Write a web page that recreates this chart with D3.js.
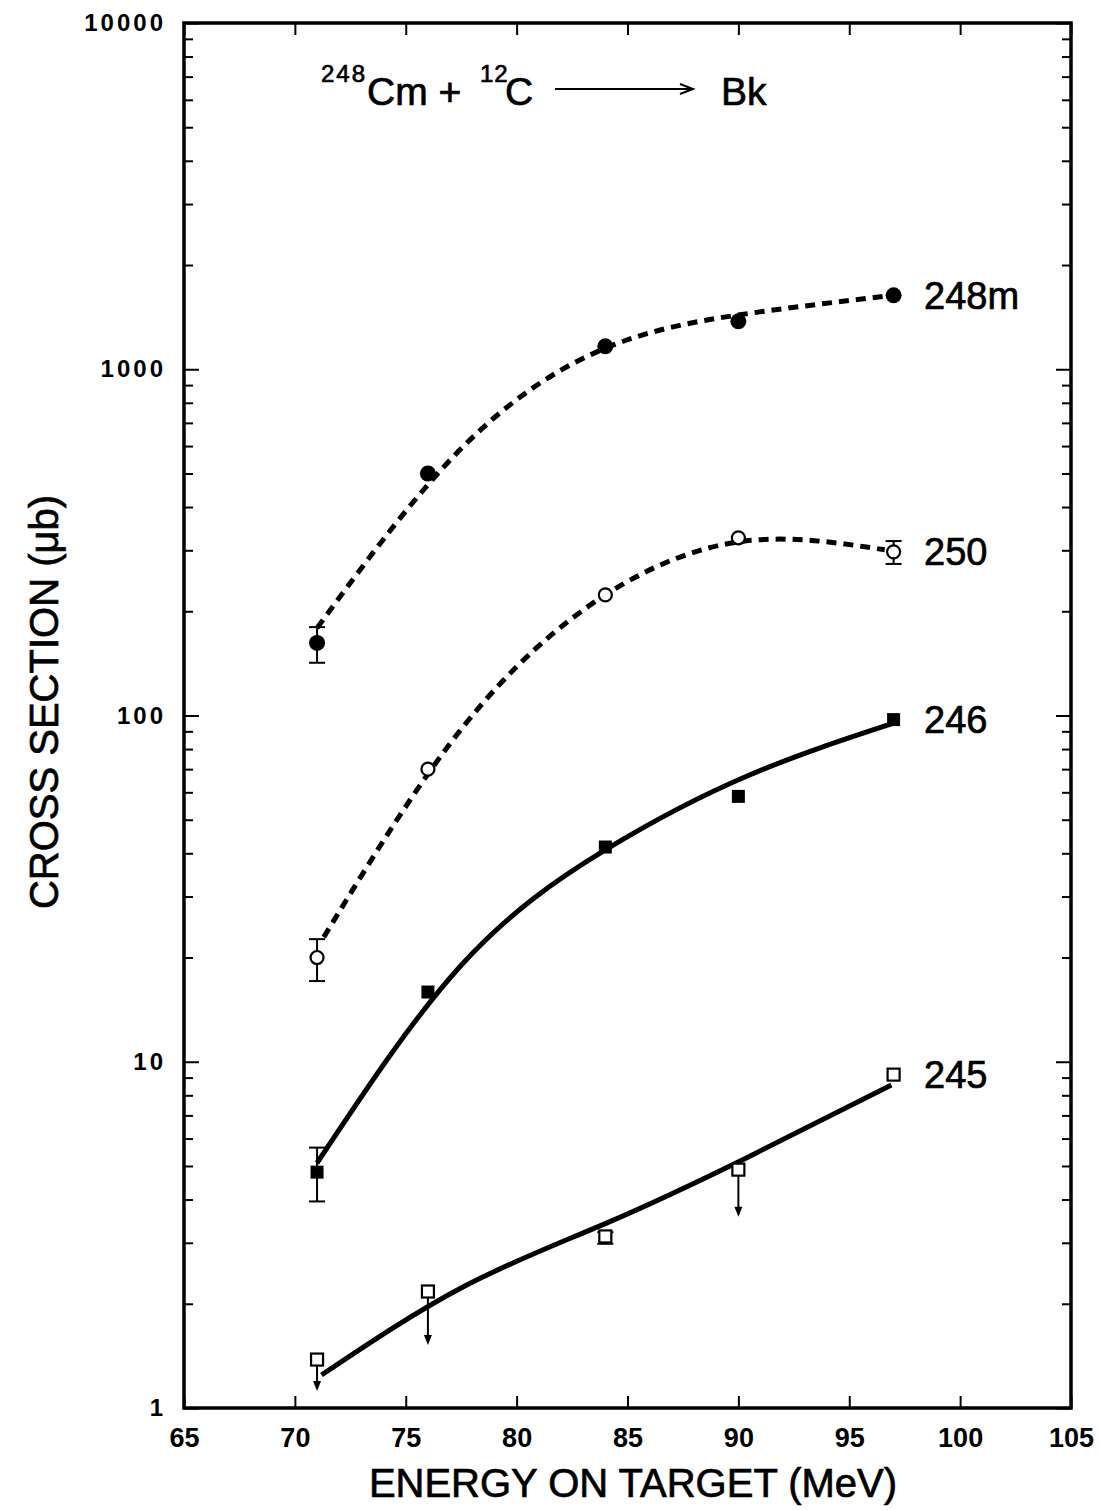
<!DOCTYPE html>
<html>
<head>
<meta charset="utf-8">
<script src="https://cdn.jsdelivr.net/npm/d3@7"></script>
<style>
  body { margin: 0; background: #fff; }
  svg { font-family: "Liberation Sans", Arial, sans-serif; }
  .tick text { font-weight: bold; fill: #000; }
  .yax .tick text { font-size: 24px; letter-spacing: 3px; }
  .xax .tick text { font-size: 27px; }
  .tick line { stroke: #000; stroke-width: 2; }
  .domain { display: none; }
  .big { stroke: #000; stroke-width: 0.7px; }
</style>
</head>
<body>
<div id="chart"></div>
<script>
// measured points, energy in MeV, cross section in microbarn
var energies = [71, 76, 84, 90, 97];
var xTicks = [65, 70, 75, 80, 85, 90, 95, 100, 105];
var yTicks = [1, 10, 100, 1000, 10000];

var cs248m = [162, 500, 1165, 1375, 1635];
var cs250 = [20, 70, 223, 326, 297];
var cs246 = [4.8, 15.9, 41.7, 58.4, 97.3];
var cs245 = [1.38, 2.17, 3.13, 4.88, 9.18];

// error bars: [energy, low, high]
var err248m = [[71, 142, 180]];
var err250 = [[71, 17.1, 22.6], [97, 274, 319]];
var err246 = [[71, 3.95, 5.65]];
var err245 = [[84, 2.98, 3.22]];

// upper limits (arrows) for 245: [energy, from, to]
var limits245 = [[71, 1.38, 1.12], [76, 2.17, 1.52], [90, 4.88, 3.57]];

var fitX248m = [71, 77.5, 84, 90.5, 97];
var fit248m = [179, 590, 1150, 1450, 1635];
var fitX250 = [71.3, 77.6, 84, 90.3, 96.6];
var fit250 = [22.9, 93, 223, 319, 301];
var fitX246 = [71, 77.5, 84, 90.5, 97];
var fit246 = [5.1, 19.0, 40.9, 67.3, 95];
var fitX245 = [71.2, 77.6, 84.05, 90.45, 96.9];
var fit245 = [1.245, 2.24, 3.42, 5.31, 8.57];

(function() {
var width = 1100, height = 1510;
var pLeft = 184, pRight = 1071, pTop = 23, pBottom = 1408;

var svg = d3.select("#chart").append("svg")
  .attr("width", width)
  .attr("height", height);

var x = d3.scaleLinear().domain([65, 105]).range([pLeft, pRight]);
var y = d3.scaleLog().domain([1, 10000]).range([pBottom, pTop]);

// minor ticks of the log axis
var minor = [];
for (var d = 1; d < 10000; d *= 10) {
  for (var k = 2; k <= 9; k++) minor.push(d * k);
}

svg.append("g").attr("class", "yax")
  .attr("transform", "translate(" + pLeft + ",0)")
  .call(d3.axisLeft(y).tickValues(yTicks).tickSize(-15).tickPadding(18)
    .tickFormat(d3.format("d")));
svg.append("g")
  .attr("transform", "translate(" + pLeft + ",0)")
  .call(d3.axisLeft(y).tickValues(minor).tickSize(-9).tickFormat(""));
svg.append("g")
  .attr("transform", "translate(" + pRight + ",0)")
  .call(d3.axisRight(y).tickValues(yTicks).tickSize(-15).tickFormat(""));
svg.append("g")
  .attr("transform", "translate(" + pRight + ",0)")
  .call(d3.axisRight(y).tickValues(minor).tickSize(-9).tickFormat(""));

svg.append("g").attr("class", "xax")
  .attr("transform", "translate(0," + pBottom + ")")
  .call(d3.axisBottom(x).tickValues(xTicks).tickSize(-12).tickPadding(20));
svg.append("g")
  .attr("transform", "translate(0," + pTop + ")")
  .call(d3.axisTop(x).tickValues(xTicks).tickSize(-12).tickFormat(""));

svg.append("rect")
  .attr("x", pLeft).attr("y", pTop)
  .attr("width", pRight - pLeft).attr("height", pBottom - pTop)
  .attr("fill", "none").attr("stroke", "#000").attr("stroke-width", 3.5);

// axis titles
svg.append("text").attr("class", "big")
  .attr("x", 633).attr("y", 1497)
  .attr("text-anchor", "middle")
  .style("font-size", "40px")
  .text("ENERGY ON TARGET (MeV)");

svg.append("text").attr("class", "big")
  .attr("transform", "translate(58,702) rotate(-90)")
  .attr("text-anchor", "middle")
  .style("font-size", "40px")
  .text("CROSS SECTION (\u03bcb)");

// reaction title
var title = svg.append("g");
title.append("text").attr("class", "big").attr("x", 321).attr("y", 82)
  .style("font-size", "24px").style("letter-spacing", "2px").text("248");
title.append("text").attr("class", "big").attr("x", 367).attr("y", 105).style("font-size", "39px").text("Cm +");
title.append("text").attr("class", "big").attr("x", 480).attr("y", 82)
  .style("font-size", "24px").style("letter-spacing", "1px").text("12");
title.append("text").attr("class", "big").attr("x", 505).attr("y", 105).style("font-size", "39px").text("C");
title.append("text").attr("class", "big").attr("x", 721).attr("y", 105).style("font-size", "39px").text("Bk");
title.append("line")
  .attr("x1", 555).attr("x2", 692).attr("y1", 89).attr("y2", 89)
  .attr("stroke", "#000").attr("stroke-width", 2);
title.append("path")
  .attr("d", "M680,84 L693,89 L680,94")
  .attr("fill", "none").attr("stroke", "#000").attr("stroke-width", 2);

// fit curves
var line = d3.line()
  .x(function(d) { return x(d[0]); })
  .y(function(d) { return y(d[1]); })
  .curve(d3.curveNatural);

function drawFit(xs, vs, dashed) {
  svg.append("path")
    .datum(d3.zip(xs, vs))
    .attr("d", line)
    .attr("fill", "none")
    .attr("stroke", "#000")
    .attr("stroke-width", 5)
    .attr("stroke-dasharray", dashed ? "10,7" : null);
}
drawFit(fitX248m, fit248m, true);
drawFit(fitX250, fit250, true);
drawFit(fitX246, fit246, false);
drawFit(fitX245, fit245, false);

// error bars
function drawErr(list) {
  list.forEach(function(e) {
    var g = svg.append("g").attr("stroke", "#000").attr("stroke-width", 2);
    g.append("line").attr("x1", x(e[0])).attr("x2", x(e[0]))
      .attr("y1", y(e[1])).attr("y2", y(e[2]));
    [e[1], e[2]].forEach(function(v) {
      g.append("line").attr("x1", x(e[0]) - 8).attr("x2", x(e[0]) + 8)
        .attr("y1", y(v)).attr("y2", y(v));
    });
  });
}
drawErr(err248m);
drawErr(err250);
drawErr(err246);
drawErr(err245);

// upper-limit arrows
limits245.forEach(function(a) {
  var cx = x(a[0]), y1 = y(a[1]) + 6, y2 = y(a[2]);
  svg.append("line").attr("x1", cx).attr("x2", cx).attr("y1", y1).attr("y2", y2 - 8)
    .attr("stroke", "#000").attr("stroke-width", 2);
  svg.append("path")
    .attr("d", "M" + (cx - 4) + "," + (y2 - 10) + " L" + (cx + 4) + "," + (y2 - 10) + " L" + cx + "," + y2 + " Z")
    .attr("fill", "#000");
});

// markers
var pts = function(vs) { return d3.zip(energies, vs); };

svg.selectAll(".m248").data(pts(cs248m)).enter().append("circle")
  .attr("cx", function(d) { return x(d[0]); })
  .attr("cy", function(d) { return y(d[1]); })
  .attr("r", 8).attr("fill", "#000");

svg.selectAll(".m250").data(pts(cs250)).enter().append("circle")
  .attr("cx", function(d) { return x(d[0]); })
  .attr("cy", function(d) { return y(d[1]); })
  .attr("r", 6.5).attr("fill", "#fff").attr("stroke", "#000").attr("stroke-width", 2.2);

svg.selectAll(".m246").data(pts(cs246)).enter().append("rect")
  .attr("x", function(d) { return x(d[0]) - 6.5; })
  .attr("y", function(d) { return y(d[1]) - 6.5; })
  .attr("width", 13).attr("height", 13).attr("fill", "#000");

svg.selectAll(".m245").data(pts(cs245)).enter().append("rect")
  .attr("x", function(d) { return x(d[0]) - 6; })
  .attr("y", function(d) { return y(d[1]) - 6; })
  .attr("width", 12).attr("height", 12)
  .attr("fill", "#fff").attr("stroke", "#000").attr("stroke-width", 2.2);

// series labels
var labels = [["248m", 1635], ["250", 297], ["246", 97.3], ["245", 9.18]];
svg.selectAll(".lbl").data(labels).enter().append("text")
  .attr("class", "big")
  .attr("x", 924)
  .attr("y", function(d) { return y(d[1]); })
  .attr("dy", "0.36em")
  .style("font-size", "38px")
  .text(function(d) { return d[0]; });
})();
</script>
</body>
</html>
